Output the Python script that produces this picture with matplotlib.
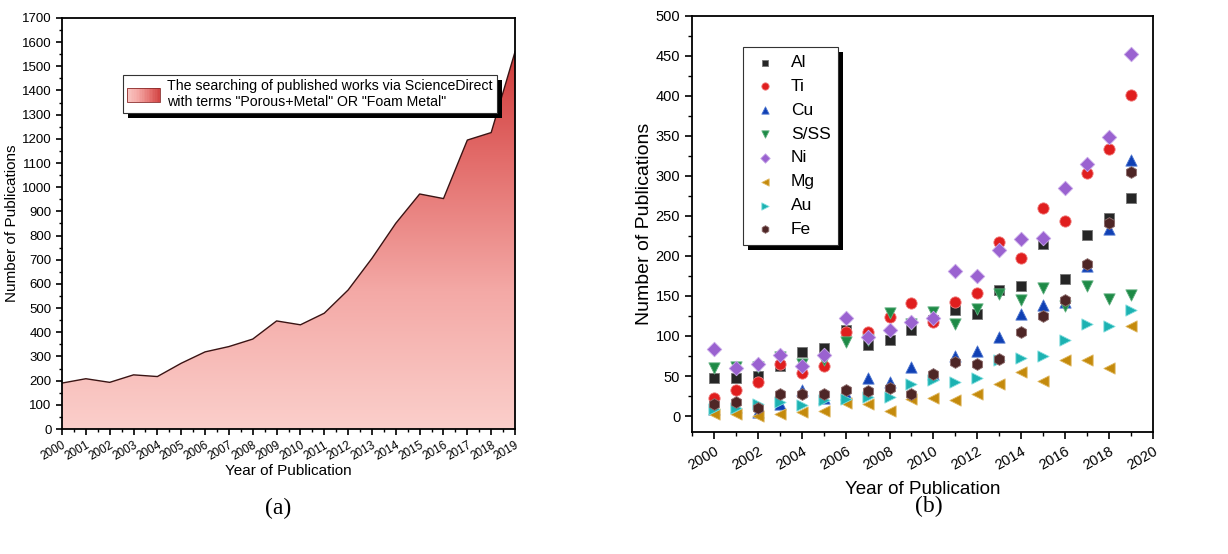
import numpy as np
import matplotlib
matplotlib.use("Agg")
import matplotlib.pyplot as plt
from matplotlib.colors import LinearSegmentedColormap
from matplotlib.patches import Rectangle
from matplotlib.legend_handler import HandlerBase
from matplotlib.ticker import MultipleLocator

plt.rcParams['font.family'] = ['Liberation Sans', 'DejaVu Sans']

# (a) total publications per year
years_a = np.arange(2000, 2020)
total_pubs = [190, 208, 193, 224, 217, 272, 319, 341, 372, 447,
              431, 479, 575, 706, 851, 972, 953, 1195, 1226, 1560]
legend_a = 'The searching of published works via ScienceDirect\nwith terms "Porous+Metal" OR "Foam Metal"'

# (b) publications per metal
years_b = np.arange(2000, 2020)
metals = ['Al', 'Ti', 'Cu', 'S/SS', 'Ni', 'Mg', 'Au', 'Fe']
al = [47, 47, 50, 63, 80, 85, 108, 89, 95, 108, 120, 133, 128, 157, 163, 215, 171, 226, 248, 273]
ti = [23, 32, 42, 65, 54, 63, 105, 105, 124, 141, 118, 143, 154, 217, 198, 260, 244, 304, 334, 401]
cu = [9, 11, 5, 15, 33, 22, 28, 47, 42, 61, 53, 75, 81, 99, 127, 139, 142, 188, 234, 320]
sss = [60, 61, 61, 74, 65, 70, 93, 95, 129, 115, 130, 115, 134, 153, 145, 160, 138, 162, 146, 151]
ni = [84, 60, 65, 76, 63, 76, 123, 99, 107, 118, 122, 181, 175, 208, 221, 222, 285, 315, 349, 452]
mg = [2, 2, 0, 3, 5, 6, 16, 15, 6, 21, 23, 20, 28, 40, 55, 44, 70, 70, 60, 112]
au = [9, 10, 15, 17, 14, 20, 21, 24, 24, 40, 45, 43, 47, 70, 72, 75, 95, 115, 113, 133]
fe = [15, 18, 10, 27, 27, 27, 33, 31, 35, 28, 52, 68, 65, 71, 105, 125, 145, 190, 241, 305]
series_b = [al, ti, cu, sss, ni, mg, au, fe]

markers = ['s', 'o', '^', 'v', 'D', '<', '>', 'h']
colors = ['#262626', '#e01e1e', '#1040b4', '#1e8a46', '#9a62d0', '#c48a0c', '#1cb2b2', '#4e2626']
edges = ['#777777', '#f08080', '#5078d0', '#60b080', '#c8a8e8', '#e0b860', '#80dede', '#907070']
sizes = [60, 66, 66, 66, 55, 66, 66, 72]

cmap = LinearSegmentedColormap.from_list('pinkred', ['#fbcfcb', '#f4a9a6', '#e26a68', '#c62a2a'])


class GradientHandler(HandlerBase):
    # legend key drawn as a horizontal pink -> red gradient
    def create_artists(self, legend, orig_handle, xdescent, ydescent,
                       width, height, fontsize, trans):
        n = 20
        arts = []
        for i in range(n):
            r = Rectangle((-xdescent + width * i / n, -ydescent), width / n + 0.2, height,
                          facecolor=cmap(0.1 + 0.75 * i / (n - 1)), edgecolor='none',
                          transform=trans)
            arts.append(r)
        arts.append(Rectangle((-xdescent, -ydescent), width, height, facecolor='none',
                              edgecolor='#8a2a2a', lw=0.6, transform=trans))
        return arts


fig = plt.figure(figsize=(12.28, 5.54), dpi=100)
ax1 = fig.add_axes([0.0505, 0.2256, 0.3689, 0.742])
ax2 = fig.add_axes([0.5635, 0.2202, 0.3754, 0.751])

# ---- panel (a): gradient area chart
poly = ax1.fill_between(years_a, 0, total_pubs, facecolor='none', edgecolor='none')
grad = np.linspace(0, 1, 256).reshape(-1, 1)
img = ax1.imshow(grad, cmap=cmap, origin='lower', aspect='auto',
                 extent=[2000, 2019, 0, 1700], zorder=1)
img.set_clip_path(poly.get_paths()[0], transform=ax1.transData)
ax1.plot(years_a, total_pubs, color='#3a1414', lw=1.0, zorder=2)

ax1.set_xlim(2000, 2019)
ax1.set_ylim(0, 1700)
ax1.set_xticks(years_a)
ax1.set_xticklabels([str(y) for y in years_a], rotation=30, ha='right',
                    rotation_mode='anchor', fontsize=8.5)
ax1.xaxis.set_minor_locator(MultipleLocator(0.5))
ax1.yaxis.set_major_locator(MultipleLocator(100))
ax1.yaxis.set_minor_locator(MultipleLocator(50))
ax1.tick_params(axis='y', labelsize=9.5)
ax1.tick_params(which='major', direction='out', length=4, width=1.2)
ax1.tick_params(which='minor', direction='out', length=2.5, width=1)
ax1.set_xlabel('Year of Publication', fontsize=11, labelpad=1)
ax1.set_ylabel('Number of Publications', fontsize=11, labelpad=2)
for s in ax1.spines.values():
    s.set_linewidth(1.3)

handle_a = Rectangle((0, 0), 1, 1)
leg1 = ax1.legend([handle_a], [legend_a], handler_map={Rectangle: GradientHandler()},
                  loc='upper left', bbox_to_anchor=(0.135, 0.862),
                  borderaxespad=0, fontsize=10.2, fancybox=False, edgecolor='#333333',
                  framealpha=1, handlelength=2.3, handleheight=1.1, handletextpad=0.5,
                  borderpad=0.3)
leg1.get_frame().set_linewidth(0.8)

# ---- panel (b): scatter of metals
for name, vals, m, c, e, sz in zip(metals, series_b, markers, colors, edges, sizes):
    ax2.scatter(years_b, vals, marker=m, s=sz, c=c, edgecolors=e, linewidths=0.6,
                label=name, zorder=3)

ax2.set_xlim(1999, 2020)
ax2.set_ylim(-20, 500)
ax2.xaxis.set_major_locator(MultipleLocator(2))
ax2.xaxis.set_minor_locator(MultipleLocator(1))
ax2.yaxis.set_major_locator(MultipleLocator(50))
ax2.yaxis.set_minor_locator(MultipleLocator(25))
plt.setp(ax2.get_xticklabels(), rotation=30, ha='right', rotation_mode='anchor')
ax2.tick_params(labelsize=10.5)
ax2.tick_params(which='major', direction='out', length=5, width=1.2)
ax2.tick_params(which='minor', direction='out', length=3, width=1)
ax2.set_xlabel('Year of Publication', fontsize=13.5, labelpad=6)
ax2.set_ylabel('Number of Publications', fontsize=14, labelpad=2)
for s in ax2.spines.values():
    s.set_linewidth(1.3)

leg2 = ax2.legend(loc='upper left', bbox_to_anchor=(0.111, 0.925), borderaxespad=0,
                  fontsize=12.5, fancybox=False, edgecolor='#333333', framealpha=1,
                  markerscale=0.65, handlelength=1.6, handletextpad=0.7,
                  labelspacing=0.5, borderpad=0.45)
leg2.get_frame().set_linewidth(0.8)

# black offset shadows behind both legends
fig.canvas.draw()
for ax, leg in [(ax1, leg1), (ax2, leg2)]:
    bb = leg.get_window_extent()
    x0, y0 = fig.transFigure.inverted().transform((bb.x0 + 5, bb.y0 - 5))
    x1, y1 = fig.transFigure.inverted().transform((bb.x1 + 5, bb.y1 - 5))
    fig.add_artist(Rectangle((x0, y0), x1 - x0, y1 - y0, transform=fig.transFigure,
                             facecolor='black', edgecolor='none', zorder=4))
    leg.set_zorder(6)
    leg.remove()
    fig.add_artist(leg)

fig.text(0.2265, 0.083, '(a)', ha='center', va='center', fontsize=17,
         family=['Liberation Serif', 'DejaVu Serif'])
fig.text(0.7565, 0.085, '(b)', ha='center', va='center', fontsize=17,
         family=['Liberation Serif', 'DejaVu Serif'])

fig.savefig('out.png', dpi=100)
